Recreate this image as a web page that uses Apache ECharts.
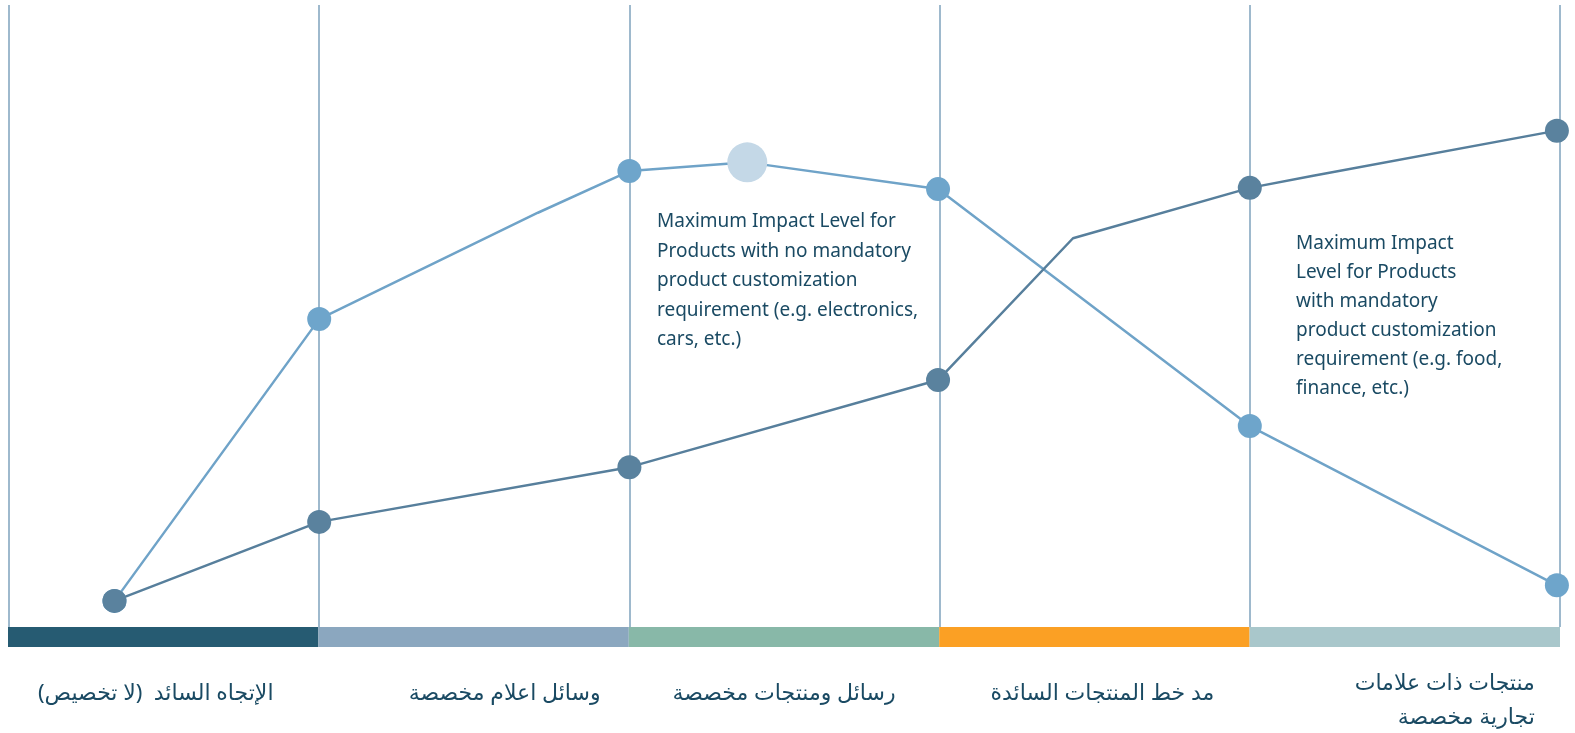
<!DOCTYPE html>
<html>
<head>
<meta charset="utf-8">
<script src="https://cdn.jsdelivr.net/npm/echarts@6/dist/echarts.min.js"></script>
<style>
  html, body { margin: 0; padding: 0; background: #fff; }
  #chart { width: 1575px; height: 733px; }
</style>
</head>
<body>
<div id="chart"></div>
<script>
// stages along the bottom (one per section)
const stages = ['الإتجاه السائد  (لا تخصيص)', 'وسائل اعلام مخصصة', 'رسائل ومنتجات مخصصة', 'مد خط المنتجات السائدة', 'منتجات ذات علامات\nتجارية مخصصة'];
const stageColors = ['#265b72', '#8ba7bf', '#88b8a8', '#fba024', '#a9c7cb'];
// label nudges (left/right padding) so labels sit like the original
const stageShift = [-15, 62, 0, 16, 80];

// lines: [position along stages, impact level]
const noCustomLine = [[0.34, 4.2], [1, 49.5], [1.705, 66.6], [2, 73.3], [2.38, 74.7], [2.995, 70.4], [4, 32.3], [4.99, 6.7]];
const noCustomMarkers = ['circle', 'circle', 'none', 'circle', 'big', 'circle', 'circle', 'circle'];
const mandatoryLine = [[0.34, 4.2], [1, 16.9], [2, 25.7], [2.995, 39.7], [3.43, 62.5], [4, 70.6], [4.2, 72.5], [4.99, 79.8]];
const mandatoryMarkers = ['circle', 'circle', 'circle', 'circle', 'none', 'circle', 'none', 'circle'];

const noteA = 'Maximum Impact Level for\nProducts with no mandatory\nproduct customization\nrequirement (e.g. electronics,\ncars, etc.)';
const noteB = 'Maximum Impact\nLevel for Products\nwith mandatory\nproduct customization\nrequirement (e.g. food,\nfinance, etc.)';

const textColor = '#1a4a63';
const chart = echarts.init(document.getElementById('chart'));

function points(vals, marks, color) {
  return vals.map((v, i) => {
    if (marks[i] === 'none') return { value: v, symbol: 'none' };
    if (marks[i] === 'big') return { value: v, symbol: 'circle', symbolSize: 40, itemStyle: { color: '#c4d8e7' } };
    return { value: v, symbol: 'circle', symbolSize: 24, itemStyle: { color: color } };
  });
}

function labelPadding(i) {
  const top = stages[i].indexOf('\n') >= 0 ? 0 : 10;
  const s = stageShift[i];
  return s >= 0 ? [top, 0, 0, s] : [top, -s, 0, 0];
}

chart.setOption({
  animation: false,
  grid: [
    { left: 9, right: 15, top: 5, bottom: 106, outerBoundsMode: 'none' },
    { left: 8, right: 15, top: 627, height: 20, outerBoundsMode: 'none' }
  ],
  xAxis: [
    {
      type: 'value', gridIndex: 0, min: 0, max: 5, interval: 1,
      axisLine: { show: false }, axisTick: { show: false }, axisLabel: { show: false },
      splitLine: { show: true, lineStyle: { color: '#7ea2bd', width: 1.5 } }
    },
    {
      type: 'category', gridIndex: 1, data: stages.map((s, i) => ({
        value: s,
        textStyle: { padding: labelPadding(i) }
      })),
      axisLine: { show: false }, axisTick: { show: false },
      axisLabel: {
        color: textColor, fontSize: 22, fontFamily: 'Noto Sans, DejaVu Sans, sans-serif',
        margin: 20, verticalAlign: 'top', lineHeight: 34, interval: 0,
        // Arabic lines of a wrapped label are right aligned
        formatter: v => v.indexOf('\n') < 0 ? v : v.split('\n').map(l => '{r|' + l + '}').join('\n'),
        rich: {
          r: { align: 'right', color: textColor, fontSize: 22, lineHeight: 34, fontFamily: 'Noto Sans, DejaVu Sans, sans-serif' }
        }
      }
    }
  ],
  yAxis: [
    { type: 'value', gridIndex: 0, min: 0, max: 100, show: false, splitLine: { show: false } },
    { type: 'value', gridIndex: 1, min: 0, max: 1, show: false, splitLine: { show: false } }
  ],
  series: [
    {
      type: 'bar', xAxisIndex: 1, yAxisIndex: 1, barWidth: '100%', barCategoryGap: '0%',
      data: stageColors.map(c => ({ value: 1, itemStyle: { color: c } })),
      silent: true
    },
    {
      name: 'No mandatory customization', type: 'line',
      data: points(noCustomLine, noCustomMarkers, '#6ea5cb'),
      lineStyle: { color: '#6fa3c8', width: 2.5 },
      itemStyle: { color: '#6ea5cb' }, z: 3
    },
    {
      name: 'Mandatory customization', type: 'line',
      data: points(mandatoryLine, mandatoryMarkers, '#5a829e'),
      lineStyle: { color: '#577f9c', width: 2.5 },
      itemStyle: { color: '#5a829e' }, z: 4
    }
  ],
  graphic: [
    {
      type: 'text', left: 657, top: 207,
      style: { text: noteA, fill: textColor, font: '19px "Noto Sans", sans-serif', lineHeight: 29.5 }
    },
    {
      type: 'text', left: 1296, top: 229,
      style: { text: noteB, fill: textColor, font: '19px "Noto Sans", sans-serif', lineHeight: 29 }
    }
  ]
});

window.addEventListener('resize', () => chart.resize());
</script>
</body>
</html>
